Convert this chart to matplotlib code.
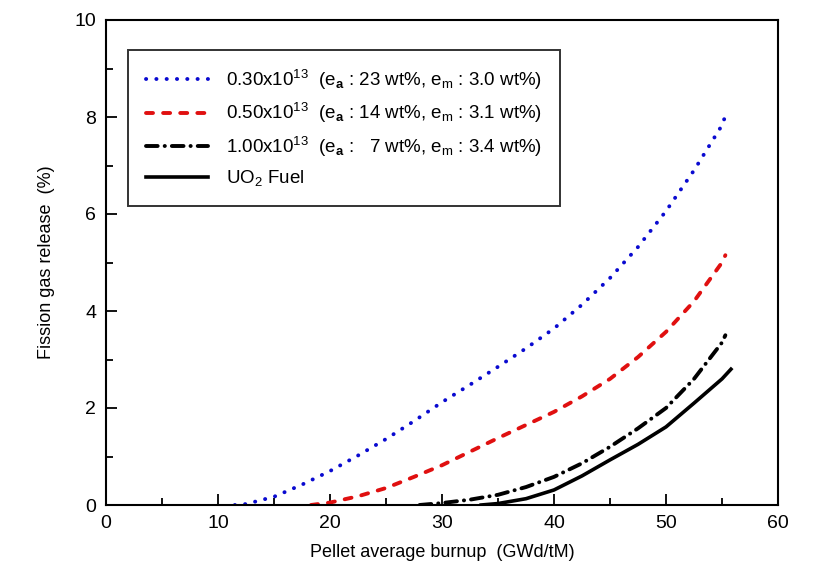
import matplotlib
matplotlib.use("Agg")
import matplotlib.pyplot as plt

plt.rcParams["font.family"] = ["Liberation Sans", "DejaVu Sans"]
plt.rcParams["mathtext.fontset"] = "custom"
plt.rcParams["mathtext.rm"] = "Liberation Sans"
plt.rcParams["mathtext.it"] = "Liberation Sans"
plt.rcParams["mathtext.bf"] = "Liberation Sans:bold"

# Burnup (GWd/tM) vs fission gas release (%)
blue_x = [11.5, 12.5, 15, 17.5, 20, 22.5, 25, 27.5, 30, 32.5, 35, 37.5, 40,
          42.5, 45, 47.5, 50, 52.5, 55, 55.5]
blue_y = [0, 0.02, 0.17, 0.42, 0.70, 1.02, 1.36, 1.73, 2.12, 2.48, 2.85, 3.23,
          3.64, 4.13, 4.68, 5.32, 6.06, 6.9, 7.83, 8.15]

red_x = [18.3, 20, 22.5, 25, 27.5, 30, 32.5, 35, 37.5, 40, 42.5, 45, 47.5, 50,
         52.5, 55, 55.3]
red_y = [0, 0.05, 0.18, 0.35, 0.58, 0.82, 1.1, 1.38, 1.65, 1.92, 2.24, 2.6,
         3.05, 3.57, 4.2, 5.0, 5.15]

dd_x = [28, 30, 32.5, 35, 37.5, 40, 42.5, 45, 47.5, 50, 52.5, 55, 55.3]
dd_y = [0, 0.04, 0.11, 0.21, 0.37, 0.58, 0.86, 1.2, 1.58, 2.0, 2.6, 3.35, 3.5]

uo2_x = [33.5, 35, 37.5, 40, 42.5, 45, 47.5, 50, 52.5, 55, 55.8]
uo2_y = [0, 0.03, 0.13, 0.31, 0.6, 0.93, 1.25, 1.61, 2.1, 2.6, 2.8]

labels = [
    r"0.30x10$^{13}$  (e$_\mathbf{a}$ : 23 wt%, e$_\mathrm{m}$ : 3.0 wt%)",
    r"0.50x10$^{13}$  (e$_\mathbf{a}$ : 14 wt%, e$_\mathrm{m}$ : 3.1 wt%)",
    r"1.00x10$^{13}$  (e$_\mathbf{a}$ :   7 wt%, e$_\mathrm{m}$ : 3.4 wt%)",
    r"UO$_2$ Fuel",
]

fig = plt.figure(figsize=(8.21, 5.8), dpi=100)
ax = fig.add_axes([106 / 821, 1 - 505 / 580, 672 / 821, 485 / 580])

ax.plot(blue_x, blue_y, color="#0a0ad0", lw=2.8, linestyle=(0, (0.05, 2.6)),
        dash_capstyle="round", label=labels[0])
ax.plot(red_x, red_y, color="#e01010", lw=2.8, linestyle=(0, (1.8, 2.6)),
        dash_capstyle="round", label=labels[1])
ax.plot(dd_x, dd_y, color="black", lw=2.8, linestyle=(0, (3.0, 1.8, 0.05, 1.8)),
        dash_capstyle="round", label=labels[2])
ax.plot(uo2_x, uo2_y, color="black", lw=2.6, label=labels[3])

ax.set_xlim(0, 60)
ax.set_ylim(0, 10)
ax.set_xticks(range(0, 61, 10))
ax.set_xticks(range(5, 60, 10), minor=True)
ax.set_yticks(range(0, 11, 2))
ax.set_yticks(range(1, 10, 2), minor=True)
ax.tick_params(which="both", direction="in", width=1.3, labelsize=14, pad=7)
ax.tick_params(which="major", length=8)
ax.tick_params(which="minor", length=5)
for s in ax.spines.values():
    s.set_linewidth(1.5)

ax.set_xlabel("Pellet average burnup  (GWd/tM)", fontsize=13, labelpad=9)
ax.set_ylabel("Fission gas release  (%)", fontsize=13, labelpad=14)

leg = ax.legend(loc="upper left", bbox_to_anchor=(22 / 672, 1 - 30 / 485),
                fontsize=13.5, frameon=True, fancybox=False, handlelength=3.3,
                handletextpad=1.0, labelspacing=0.5, borderpad=0.95,
                borderaxespad=0)
leg.get_frame().set_edgecolor("black")
leg.get_frame().set_linewidth(1.4)

fig.savefig("out.png", dpi=100)
